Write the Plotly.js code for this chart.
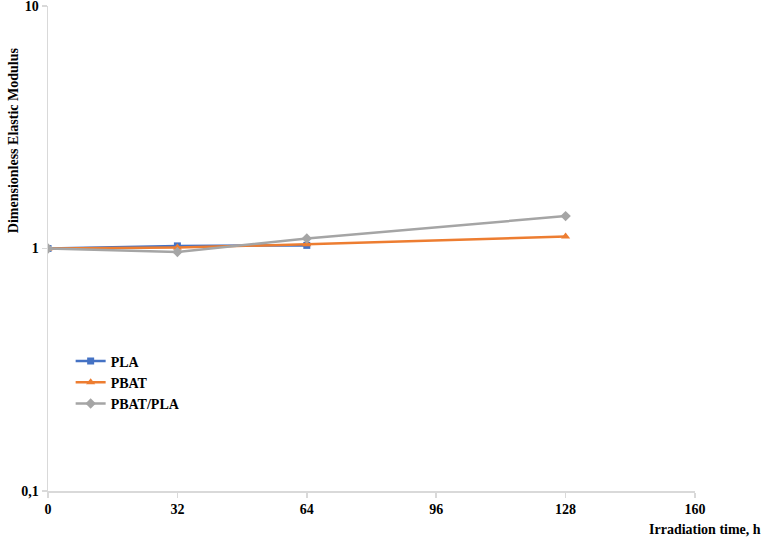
<!DOCTYPE html>
<html>
<head>
<meta charset="utf-8">
<script src="https://cdn.plot.ly/plotly-3.0.1.min.js"></script>
<style>html,body{margin:0;padding:0;background:#fff;}#chart{width:765px;height:540px;}</style>
</head>
<body>
<div id="chart"></div>
<script>
// Data
const timePLA = [0, 32, 64];
const valPLA = [1.0, 1.025, 1.03];
const timePBAT = [0, 32, 64, 128];
const valPBAT = [1.0, 1.01, 1.04, 1.12];
const timeBlend = [0, 32, 64, 128];
const valBlend = [1.0, 0.968, 1.10, 1.36];
const xTicks = [0, 32, 64, 96, 128, 160];
const yTickVals = [0.1, 1, 10];
const yTickText = ["0,1", "1", "10"];

const fontFam = '"Liberation Serif", "Times New Roman", serif';
const fs = 14;

const traces = [
  {x: timePLA, y: valPLA, name: 'PLA', mode: 'lines+markers',
   line: {color: '#4472C4', width: 2.5}, marker: {symbol: 'square', size: 7, color: '#4472C4'}},
  {x: timePBAT, y: valPBAT, name: 'PBAT', mode: 'lines+markers',
   line: {color: '#ED7D31', width: 2.5}, marker: {symbol: 'triangle-up', size: 8, color: '#ED7D31'}},
  {x: timeBlend, y: valBlend, name: 'PBAT/PLA', mode: 'lines+markers',
   line: {color: '#A5A5A5', width: 2.5}, marker: {symbol: 'diamond', size: 8, color: '#A5A5A5'}}
];

const layout = {
  width: 765, height: 540,
  margin: {l: 48, r: 70, t: 6, b: 49},
  paper_bgcolor: '#fff', plot_bgcolor: '#fff',
  font: {family: fontFam, size: fs, color: '#000'},
  showlegend: true,
  legend: {x: 0.035, y: 0.30, xanchor: 'left', yanchor: 'top',
           font: {family: fontFam, size: fs, color: '#000', weight: 'bold'},
           bgcolor: 'rgba(0,0,0,0)', tracegroupgap: 0},
  xaxis: {range: [0, 160], tickvals: xTicks, ticktext: xTicks.map(String),
          showgrid: false, zeroline: false, showline: true, linecolor: '#d9d9d9', linewidth: 1.5,
          ticks: 'outside', ticklen: 5, tickcolor: '#d9d9d9', tickwidth: 1.5,
          ticklabeloverflow: 'allow',
          tickfont: {family: fontFam, size: fs, color: '#000', weight: 'bold'}},
  yaxis: {type: 'log', range: [-1, 1], tickvals: yTickVals, ticktext: yTickText,
          showgrid: false, zeroline: false, showline: true, linecolor: '#d9d9d9', linewidth: 1.5,
          ticks: 'outside', ticklen: 5, tickcolor: '#d9d9d9', tickwidth: 1.5,
          ticklabeloverflow: 'allow',
          tickfont: {family: fontFam, size: fs, color: '#000', weight: 'bold'}},
  annotations: [
    {text: 'Dimensionless Elastic Modulus', xref: 'paper', yref: 'paper',
     x: -0.052, y: 0.724, xanchor: 'center', yanchor: 'middle', textangle: -90, showarrow: false,
     font: {family: fontFam, size: fs, color: '#000', weight: 'bold'}},
    {text: 'Irradiation time, h', xref: 'paper', yref: 'paper',
     x: 1.105, y: -0.08, xanchor: 'right', yanchor: 'middle', showarrow: false,
     font: {family: fontFam, size: fs, color: '#000', weight: 'bold'}}
  ]
};

Plotly.newPlot('chart', traces, layout, {displayModeBar: false, staticPlot: true});
</script>
</body>
</html>
